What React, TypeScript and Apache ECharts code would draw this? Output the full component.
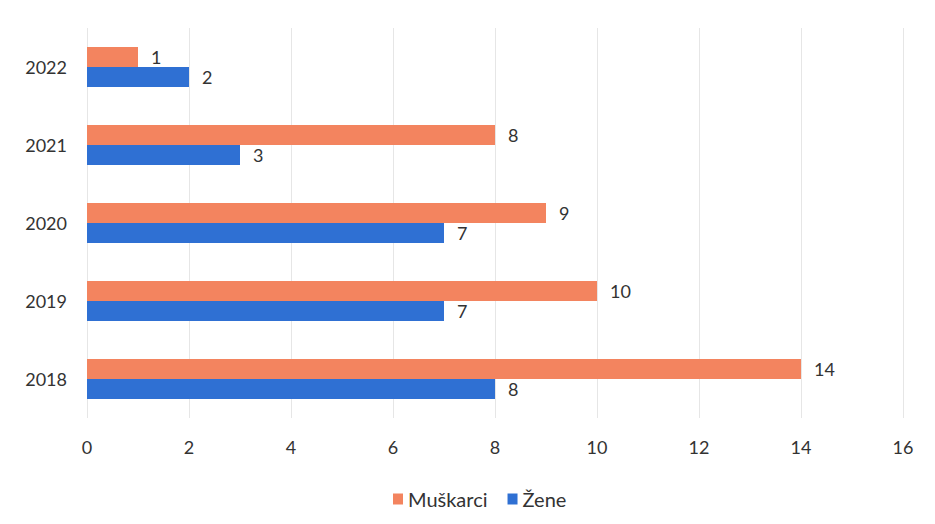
import React, { useEffect, useRef } from "react";
import * as echarts from "echarts";

const categories = ["2018", "2019", "2020", "2021", "2022"];
const muskarci = [14, 10, 9, 8, 1];
const zene = [8, 7, 7, 3, 2];
const seriesNames = ["Muškarci", "Žene"];

export default function App() {
  const ref = useRef<HTMLDivElement>(null);
  useEffect(() => {
    if (!ref.current) return;
    const chart = echarts.init(ref.current, undefined, { renderer: "svg" });
    const font = "Lato, 'Open Sans', sans-serif";
    const label = {
      show: true,
      position: "right",
      distance: 13,
      color: "#333",
      fontSize: 18,
      fontFamily: font,
    };
    chart.setOption({
      animation: false,
      backgroundColor: "#fff",
      grid: { left: 87, right: 32, top: 28, bottom: 106, containLabel: false },
      legend: {
        data: seriesNames,
        left: 388,
        top: 484,
        itemWidth: 10,
        itemHeight: 11,
        itemGap: 20,
        icon: "rect",
        textStyle: { fontSize: 20, color: "#333", fontFamily: font },
      },
      xAxis: {
        type: "value",
        min: 0,
        max: 16,
        interval: 2,
        axisLine: { show: false },
        axisTick: { show: false },
        splitLine: { show: true, lineStyle: { color: "#e6e6e6", width: 1 } },
        axisLabel: { fontSize: 18, color: "#333", margin: 20, fontFamily: font },
      },
      yAxis: {
        type: "category",
        data: categories,
        axisLine: { show: false },
        axisTick: { show: false },
        axisLabel: { fontSize: 18, color: "#333", margin: 20, fontFamily: font },
      },
      series: [
        {
          name: seriesNames[0],
          type: "bar",
          data: muskarci,
          itemStyle: { color: "#F3845F" },
          barWidth: 20,
          barGap: "0%",
          label,
        },
        {
          name: seriesNames[1],
          type: "bar",
          data: zene,
          itemStyle: { color: "#2F70D3" },
          barWidth: 20,
          barGap: "0%",
          label,
        },
      ],
    });
    return () => chart.dispose();
  }, []);
  return (
    <div
      ref={ref}
      style={{ position: "fixed", left: 0, top: 0, width: 935, height: 524 }}
    />
  );
}
